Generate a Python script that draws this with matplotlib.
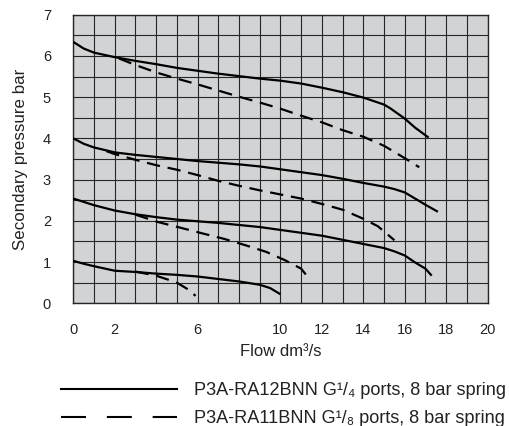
import matplotlib
matplotlib.use("Agg")
import matplotlib.pyplot as plt
from matplotlib.lines import Line2D
from matplotlib.ticker import MultipleLocator

plt.rcParams['font.family'] = ['Liberation Sans', 'DejaVu Sans']

# curves (flow dm3/s, secondary pressure bar)
# solid = P3A-RA12BNN, dashed = P3A-RA11BNN
solid_a_x = [0, 0.5, 1, 2, 3, 4, 5, 6, 7, 8, 9, 10, 11, 12, 13, 14, 15, 15.3, 16, 16.5, 17.15]
solid_a_y = [6.34, 6.18, 6.08, 5.97, 5.88, 5.80, 5.71, 5.64, 5.57, 5.51, 5.45, 5.40, 5.33, 5.23, 5.12, 4.99, 4.82, 4.73, 4.48, 4.26, 4.02]
dashed_a_x = [2.2, 3, 4, 5, 6, 7, 8, 9, 10, 11, 12, 13, 14, 15, 16, 16.7]
dashed_a_y = [5.94, 5.78, 5.60, 5.45, 5.31, 5.16, 5.01, 4.87, 4.72, 4.55, 4.39, 4.20, 4.04, 3.82, 3.52, 3.30]

solid_b_x = [0, 0.5, 1, 2, 3, 4, 5, 6, 7, 8, 9, 10, 11, 12, 13, 14, 15, 15.5, 16, 16.5, 17, 17.6]
solid_b_y = [4.0, 3.87, 3.78, 3.66, 3.60, 3.55, 3.50, 3.45, 3.41, 3.37, 3.32, 3.25, 3.18, 3.11, 3.02, 2.92, 2.83, 2.77, 2.69, 2.54, 2.39, 2.22]
dashed_b_x = [1.6, 2, 3, 4, 5, 6, 7, 8, 9, 10, 11, 12, 13, 14, 14.7, 15.5]
dashed_b_y = [3.69, 3.62, 3.48, 3.35, 3.24, 3.11, 2.97, 2.85, 2.74, 2.64, 2.54, 2.41, 2.27, 2.05, 1.87, 1.53]

solid_c_x = [0, 0.5, 1, 2, 3, 4, 5, 6, 7, 8, 9, 10, 11, 12, 13, 14, 15, 15.5, 16, 16.5, 17, 17.3]
solid_c_y = [2.54, 2.46, 2.38, 2.25, 2.16, 2.09, 2.03, 1.99, 1.95, 1.90, 1.85, 1.78, 1.71, 1.64, 1.54, 1.44, 1.34, 1.26, 1.16, 0.99, 0.84, 0.67]
dashed_c_x = [3.0, 4.1, 5.2, 6.2, 7.3, 8.3, 9.3, 10.2, 11.0, 11.3]
dashed_c_y = [2.15, 1.97, 1.83, 1.70, 1.56, 1.41, 1.25, 1.05, 0.84, 0.65]

solid_d_x = [0, 0.5, 1, 2, 3, 4, 5, 6, 7, 8, 9, 9.5, 10.0]
solid_d_y = [1.03, 0.96, 0.90, 0.79, 0.76, 0.72, 0.69, 0.65, 0.59, 0.53, 0.45, 0.37, 0.22]
dashed_d_x = [3.0, 4.0, 4.6, 5.0, 5.6, 5.9]
dashed_d_y = [0.77, 0.67, 0.57, 0.50, 0.32, 0.18]

xtick_vals = [0, 2, 6, 10, 12, 14, 16, 18, 20]
ytick_vals = [0, 1, 2, 3, 4, 5, 6, 7]

labels = ["P3A-RA12BNN G\u00b9/\u2084 ports, 8 bar spring",
          "P3A-RA11BNN G\u00b9/\u2088 ports, 8 bar spring"]

txt = '#222222'
fig = plt.figure(figsize=(5.09, 4.26), dpi=100)
ax = fig.add_axes([0.144, 0.288, 0.814, 0.6775])
ax.set_facecolor('#d2d3d5')

solid = [(solid_a_x, solid_a_y), (solid_b_x, solid_b_y), (solid_c_x, solid_c_y), (solid_d_x, solid_d_y)]
dashed = [(dashed_a_x, dashed_a_y), (dashed_b_x, dashed_b_y), (dashed_c_x, dashed_c_y), (dashed_d_x, dashed_d_y)]
for xs, ys in solid:
    ax.plot(xs, ys, color='black', lw=1.6, solid_capstyle='butt', zorder=3)
for xs, ys in dashed:
    ax.plot(xs, ys, color='black', lw=1.6, linestyle=(0, (6, 3.5)), zorder=3)

ax.set_xlim(0, 20)
ax.set_ylim(0, 7)
ax.set_xticks(xtick_vals)
ax.set_yticks(ytick_vals)
ax.xaxis.set_minor_locator(MultipleLocator(1))
ax.yaxis.set_minor_locator(MultipleLocator(0.5))
ax.grid(which='both', color='#262626', lw=0.8)
ax.set_axisbelow(True)
ax.tick_params(which='both', length=0, labelsize=10.5, labelcolor=txt)
ax.tick_params(axis='x', pad=14)
ax.tick_params(axis='y', pad=16)
for s in ax.spines.values():
    s.set_color('#262626')
    s.set_linewidth(1.0)

ax.set_xlabel("Flow dm\u00b3/s", fontsize=12, color=txt, labelpad=5)
ax.set_ylabel("Secondary pressure bar", fontsize=12.2, color=txt, labelpad=11)

handles = [Line2D([], [], color='black', lw=1.5),
           Line2D([], [], color='black', lw=1.5, linestyle=(0, (12, 10)))]
fig.legend(handles, labels, loc='upper left', bbox_to_anchor=(61 / 509, 1 - 382 / 426),
           frameon=False, fontsize=13.1, handlelength=6.4, handletextpad=0.9,
           labelspacing=0.6, borderpad=0, borderaxespad=0, labelcolor=txt)

fig.savefig("out.png", dpi=100)
